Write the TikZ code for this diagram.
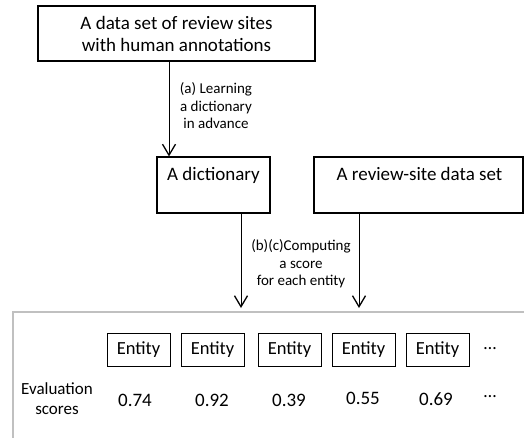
\documentclass[tikz,border=0pt]{standalone}
\usepackage{fontspec}
\setmainfont{Carlito}
\usetikzlibrary{arrows.meta}
\begin{document}
\begin{tikzpicture}[x=1pt,y=-1pt,
  box/.style={draw=black, line width=1.1pt, inner sep=0pt},
  bigtxt/.style={font=\fontsize{19}{22}\selectfont},
  lbl/.style={font=\fontsize{15}{17.5}\selectfont, align=center, inner sep=0pt},
  arr/.style={line width=0.9pt, -{Straight Barb[length=11pt,width=13pt,line width=1.3pt]}},
  entbox/.style={draw=black, line width=1pt, minimum width=63pt, minimum height=33pt, inner sep=0pt, font=\fontsize{18.5}{20}\selectfont},
  num/.style={font=\fontsize{19}{22}\selectfont, inner sep=0pt},
  dotsn/.style={font=\fontsize{18}{20}\selectfont, inner sep=0pt}]
\useasboundingbox (0,0) rectangle (524,437);
\fill[white] (0,0) rectangle (524,437);
% frame of the results area
\begin{scope}
\clip (0,0) rectangle (524,437);
\draw[draw={rgb,255:red,192;green,192;blue,192}, line width=1.2pt] (13,312) rectangle (540,460);
\end{scope}
% boxes
\node[box, bigtxt, align=center, minimum width=277pt, minimum height=55pt] (top) at (176.5,33.5) {A data set of review sites\\with human annotations};
\node[box, minimum width=113pt, minimum height=56pt,
  label={[bigtxt, anchor=base, inner sep=0pt, yshift=-24pt]north:A dictionary}] (dict) at (213.5,185) {};
\node[box, minimum width=209pt, minimum height=56pt,
  label={[bigtxt, anchor=base, inner sep=0pt, yshift=-24pt, xshift=1pt]north:A review-site data set}] (rev) at (418.5,185) {};
% arrows
\coordinate (xa) at (169,0);
\coordinate (xb) at (241,0);
\coordinate (xc) at (359,0);
\coordinate (tipb) at (241,308);
\coordinate (tipc) at (359,308);
\draw[arr] (top.south -| xa) -- (dict.north -| xa);
\draw[arr] (dict.south -| xb) -- (tipb);
\draw[arr] (rev.south -| xc) -- (tipc);
\node[lbl] (la) at (216,106) {(a) Learning\\a dictionary\\in advance};
\node[lbl] (lb) at (301,264) {(b)(c)Computing\\a score\\for each entity};
% entities
\node[entbox] (e1) at (138.5,349.5) {Entity};
\node[entbox] (e2) at (212.5,349.5) {Entity};
\node[entbox] (e3) at (289.5,349.5) {Entity};
\node[entbox] (e4) at (363.5,349.5) {Entity};
\node[entbox] (e5) at (437.5,349.5) {Entity};
\node[dotsn] (ed) at (490,350) {\raisebox{4pt}{…}};
% scores
\node[font=\fontsize{17}{20}\selectfont, align=center, inner sep=0pt] (ev) at (57,399) {Evaluation\\scores};
\node[num] (n1) at (135,400) {0.74};
\node[num] (n2) at (212,400) {0.92};
\node[num] (n3) at (289,400) {0.39};
\node[num] (n4) at (363,398) {0.55};
\node[num] (n5) at (436,399) {0.69};
\node[dotsn] (nd) at (490,398) {\raisebox{4pt}{…}};
\end{tikzpicture}
\end{document}
